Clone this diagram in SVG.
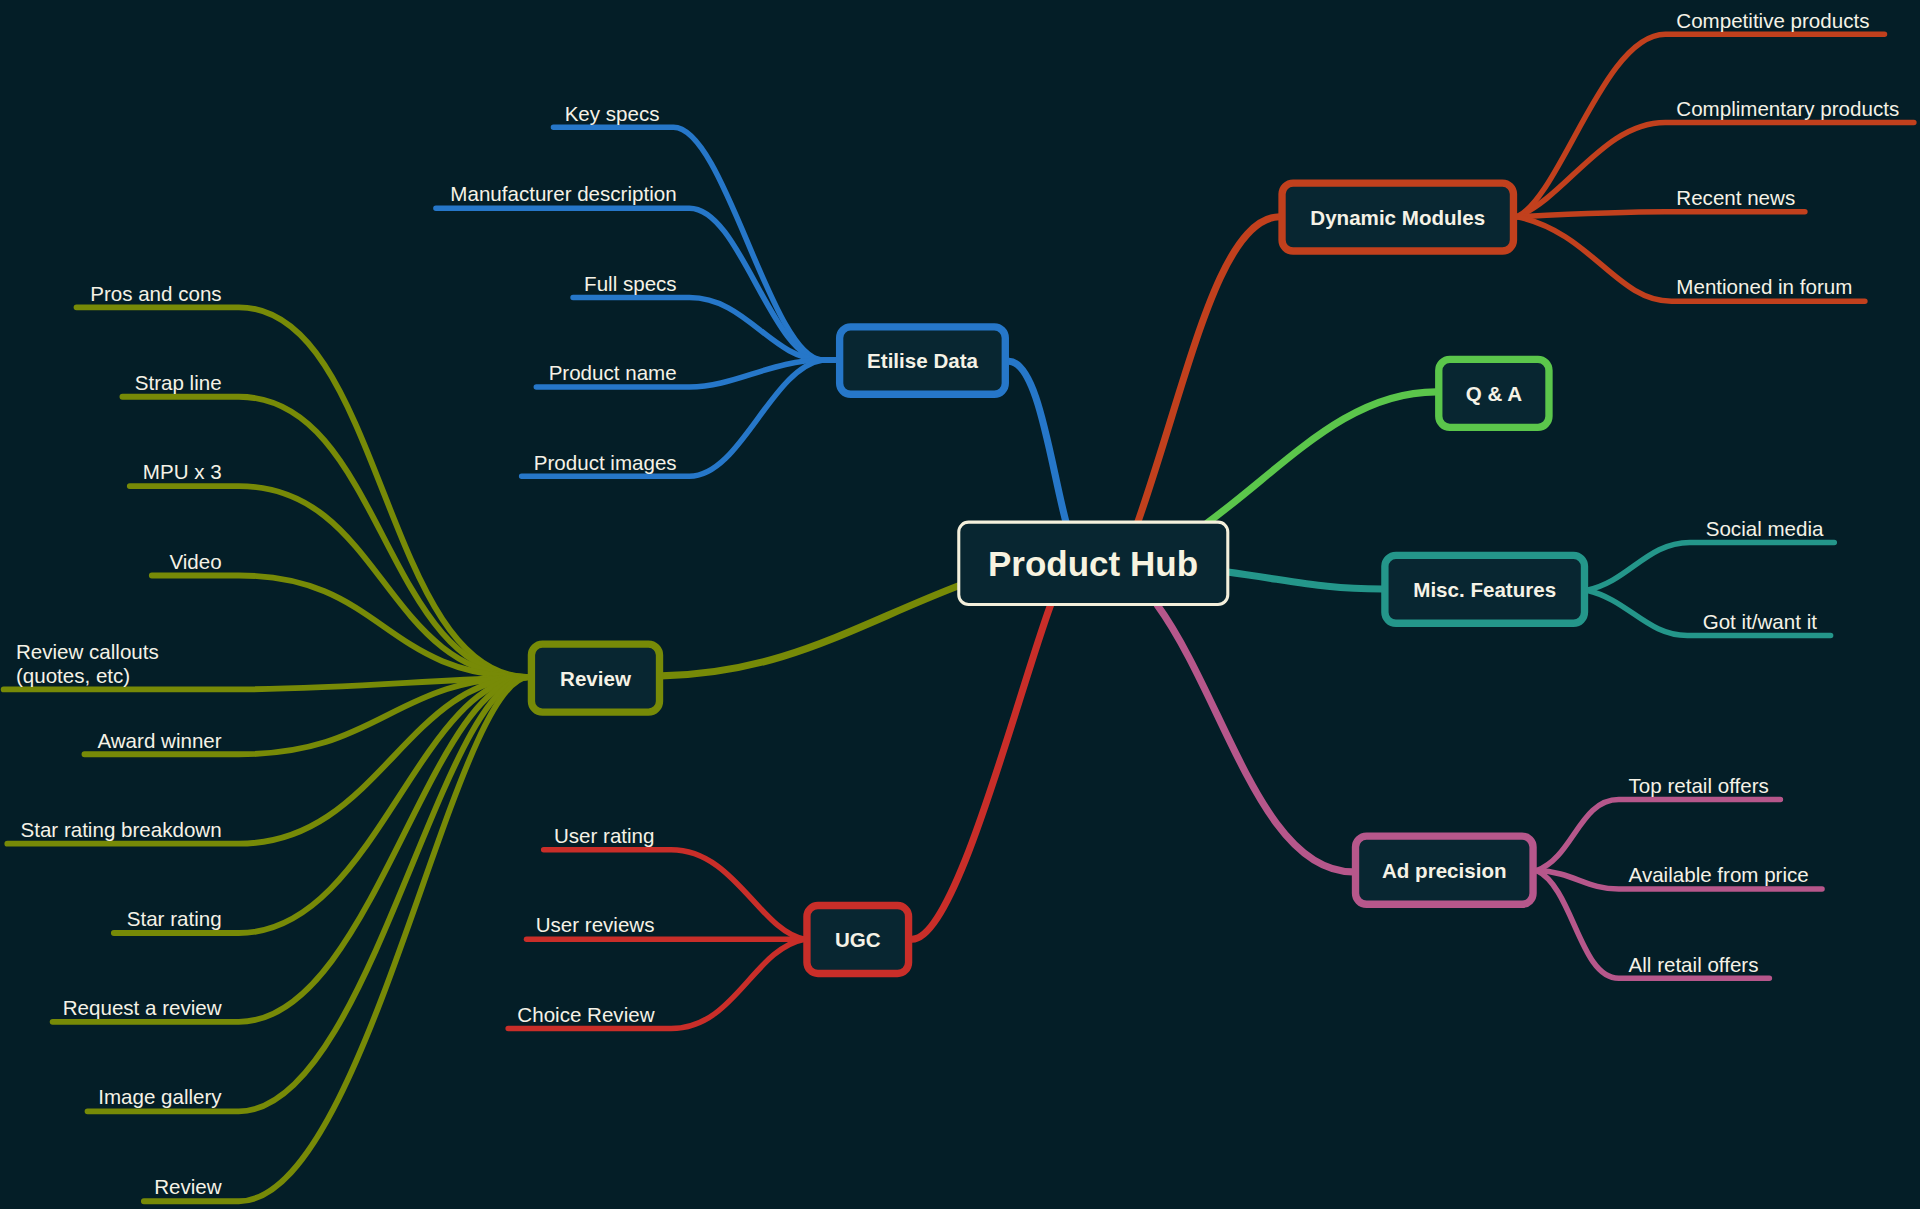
<svg xmlns="http://www.w3.org/2000/svg" width="1920" height="1209" viewBox="0 0 1920 1209">
<style>
.bg{fill:#041e27}
.c path{fill:none;stroke-linecap:round;stroke-linejoin:round}
.m{stroke-width:5.8}
.l{stroke-width:4.5}
.lr{stroke-width:4.8}
.blue{stroke:#2677c9}.dyn{stroke:#c1401d}.grn{stroke:#5bc64b}.teal{stroke:#24968a}.pink{stroke:#b6578b}.red{stroke:#c92e29}.olv{stroke:#778a07}
.box{fill:#082631;stroke-width:6}
text{font-family:"Liberation Sans",Arial,Helvetica,sans-serif;fill:#f5f2e6}
.lt{font-size:16.8px}
.nt{font-size:16.8px;font-weight:bold;text-anchor:middle}
.e{text-anchor:end}
</style>
<rect class="bg" x="0" y="0" width="1920" height="1209"/>
<g transform="scale(1.22449)">
<g id="connectors" class="c">
<path class="m blue" d="M 871 428 C 858 380, 848 296, 824 295"/>
<path class="m dyn" d="M 929 427 C 970 310, 995 178, 1045 177"/>
<path class="m grn" d="M 986 427 C 1050 380, 1100 320, 1173 320"/>
<path class="m teal" d="M 1001 467 C 1060 475, 1080 481, 1129 481"/>
<path class="m pink" d="M 945 494 C 1000 570, 1030 712, 1105 712"/>
<path class="m red" d="M 858 494 C 830 570, 780 770, 744 767"/>
<path class="m olv" d="M 784 478 C 700 510, 640 550, 540 552"/>

<path class="l dyn" d="M 1239 177 C 1275 160, 1310 28, 1360 28 L 1539 28"/>
<path class="l dyn" d="M 1239 177 C 1280 160, 1310 100, 1360 100 L 1563 100"/>
<path class="l dyn" d="M 1239 177 C 1280 175, 1320 173, 1360 173 L 1474 173"/>
<path class="l dyn" d="M 1239 177 C 1300 190, 1320 246, 1365 246 L 1523 246"/>

<path class="l teal" d="M 1296 482 C 1330 475, 1345 443, 1380 443 L 1498 443"/>
<path class="l teal" d="M 1296 482 C 1330 490, 1345 519, 1378 519 L 1495 519"/>

<path class="l pink" d="M 1255 711 C 1285 700, 1290 653, 1322 653 L 1454 653"/>
<path class="l pink" d="M 1255 711 C 1285 712, 1295 726, 1322 726 L 1488 726"/>
<path class="l pink" d="M 1255 711 C 1285 725, 1290 799, 1322 799 L 1445 799"/>

<path class="l red" d="M 657 767 C 620 760, 600 694, 548 694 L 444 694"/>
<path class="l red" d="M 657 767 L 430 767"/>
<path class="l red" d="M 657 767 C 615 775, 600 840, 548 840 L 415 840"/>

<path class="l blue" d="M 684 294 L 672 294 C 630 294, 592 104, 550 104 L 452 104"/>
<path class="l blue" d="M 684 294 L 672 294 C 630 294, 605 170, 563 170 L 356 170"/>
<path class="l blue" d="M 684 294 L 672 294 C 630 294, 610 243, 563 243 L 468 243"/>
<path class="l blue" d="M 684 294 L 672 294 C 630 294, 600 316, 563 316 L 438 316"/>
<path class="l blue" d="M 684 294 L 672 294 C 630 300, 605 389, 563 389 L 426 389"/>

<path class="lr olv" d="M 432 553 C 313 553, 313 251, 195 251 L 62.5 251"/>
<path class="lr olv" d="M 432 553 C 313 553, 313 324, 195 324 L 100 324"/>
<path class="lr olv" d="M 432 553 C 313 553, 313 397, 195 397 L 106 397"/>
<path class="lr olv" d="M 432 553 C 313 553, 313 470, 195 470 L 124 470"/>
<path class="lr olv" d="M 432 553 C 350 555, 280 563, 190 563 L 3 563"/>
<path class="lr olv" d="M 432 553 C 321 553, 311 616, 195 616 L 69 616"/>
<path class="lr olv" d="M 432 553 C 331 553, 309 689, 195 689 L 6 689"/>
<path class="lr olv" d="M 432 553 C 341 553, 307 762, 195 762 L 93 762"/>
<path class="lr olv" d="M 432 553 C 350 553, 304 834.5, 195 834.5 L 43 834.5"/>
<path class="lr olv" d="M 432 553 C 360 553, 302 907.6, 195 907.6 L 71.5 907.6"/>
<path class="lr olv" d="M 432 553 C 370 553, 300 981, 195 981 L 117.5 981"/>
</g>

<g id="product-hub">
<rect x="783" y="426.4" width="219.7" height="67.3" rx="8" fill="#082631" stroke="#f4f0dc" stroke-width="2.5"/>
<text x="892.6" y="470.4" style="font-size:28.6px;font-weight:bold;text-anchor:middle;fill:#f7f3e0">Product Hub</text>
</g>

<g id="etilise-data">
<rect class="box blue" x="685.7" y="267" width="135.3" height="55" rx="9"/>
<text class="nt" x="753.4" y="300.5">Etilise Data</text>
</g>
<g id="etilise-leaves">
<text class="lt e" x="538.6" y="98.5">Key specs</text>
<text class="lt e" x="552.6" y="164.5">Manufacturer description</text>
<text class="lt e" x="552.6" y="237.5">Full specs</text>
<text class="lt e" x="552.6" y="310.5">Product name</text>
<text class="lt e" x="552.6" y="383.5">Product images</text>
</g>

<g id="dynamic-modules">
<rect class="box dyn" x="1047" y="149.5" width="189" height="55.5" rx="9"/>
<text class="nt" x="1141.5" y="184">Dynamic Modules</text>
</g>
<g id="dynamic-leaves">
<text class="lt" x="1369" y="22.5">Competitive products</text>
<text class="lt" x="1369" y="94.5">Complimentary products</text>
<text class="lt" x="1369" y="167.5">Recent news</text>
<text class="lt" x="1369" y="240.5">Mentioned in forum</text>
</g>

<g id="qa">
<rect class="box grn" x="1175" y="293.5" width="90" height="55.5" rx="9"/>
<text class="nt" x="1220" y="327.5">Q &amp; A</text>
</g>

<g id="misc-features">
<rect class="box teal" x="1131" y="453.5" width="163" height="55.5" rx="9"/>
<text class="nt" x="1212.5" y="487.5">Misc. Features</text>
</g>
<g id="misc-leaves">
<text class="lt" x="1393" y="437.5">Social media</text>
<text class="lt" x="1390.5" y="513.5">Got it/want it</text>
</g>

<g id="ad-precision">
<rect class="box pink" x="1107" y="682.8" width="145" height="55.7" rx="9"/>
<text class="nt" x="1179.5" y="717">Ad precision</text>
</g>
<g id="ad-leaves">
<text class="lt" x="1330" y="647.5">Top retail offers</text>
<text class="lt" x="1330" y="720.5">Available from price</text>
<text class="lt" x="1330" y="793.5">All retail offers</text>
</g>

<g id="ugc">
<rect class="box red" x="659" y="739.5" width="83" height="55.5" rx="9"/>
<text class="nt" x="700.5" y="773">UGC</text>
</g>
<g id="ugc-leaves">
<text class="lt e" x="534.5" y="688.5">User rating</text>
<text class="lt e" x="534.5" y="761.5">User reviews</text>
<text class="lt e" x="534.5" y="834.5">Choice Review</text>
</g>

<g id="review">
<rect class="box olv" x="434" y="526" width="104.6" height="55.6" rx="9"/>
<text class="nt" x="486.3" y="560">Review</text>
</g>
<g id="review-leaves">
<text class="lt e" x="181" y="245.5">Pros and cons</text>
<text class="lt e" x="181" y="318.5">Strap line</text>
<text class="lt e" x="181" y="391.5">MPU x 3</text>
<text class="lt e" x="181" y="464.5">Video</text>
<text class="lt" x="13" y="538.4">Review callouts</text>
<text class="lt" x="13" y="558">(quotes, etc)</text>
<text class="lt e" x="181" y="610.5">Award winner</text>
<text class="lt e" x="181" y="683.5">Star rating breakdown</text>
<text class="lt e" x="181" y="756.5">Star rating</text>
<text class="lt e" x="181" y="829">Request a review</text>
<text class="lt e" x="181" y="902">Image gallery</text>
<text class="lt e" x="181" y="975.5">Review</text>
</g>
</g>
</svg>
